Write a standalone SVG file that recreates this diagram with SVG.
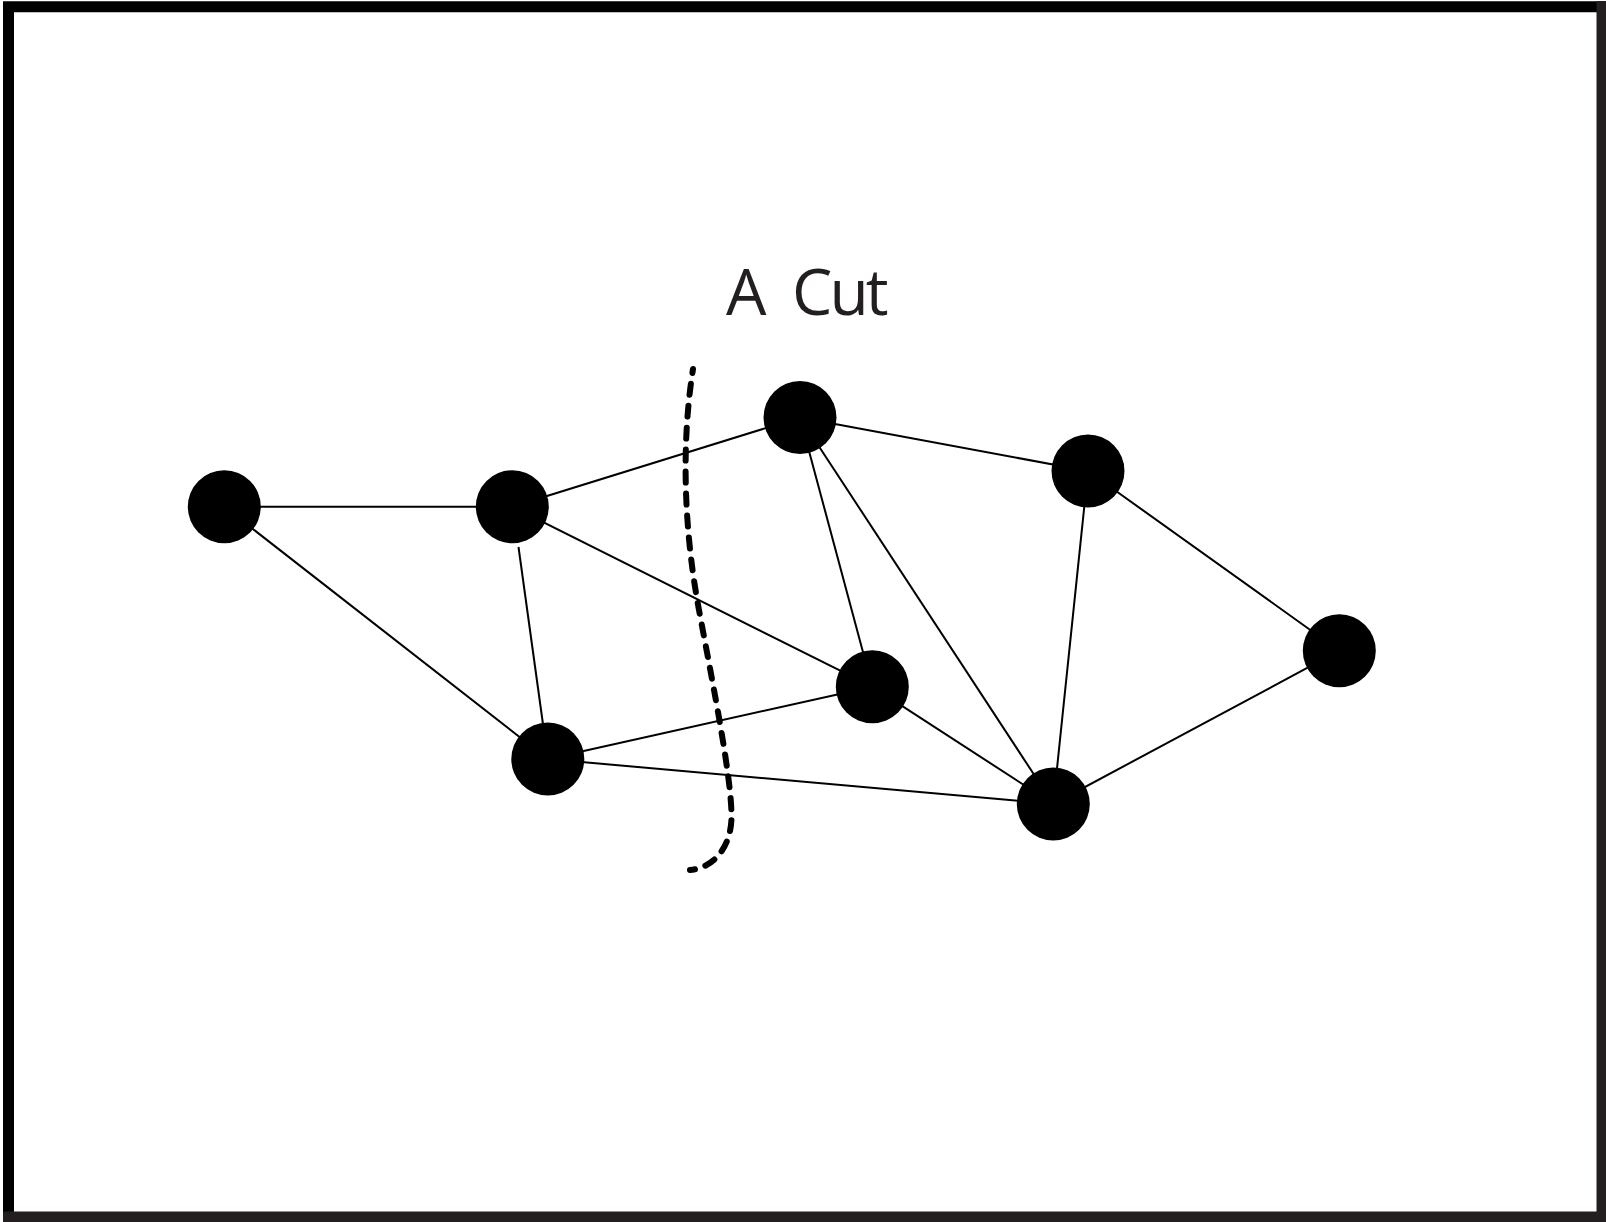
<svg xmlns="http://www.w3.org/2000/svg" width="1606" height="1222" viewBox="0 0 1606 1222">
  <style>
    .edge { stroke: #000; stroke-width: 2; fill: none; }
    .node { fill: #000; }
    .cut { stroke: #000; stroke-width: 6; fill: none; stroke-dasharray: 11 11; stroke-dashoffset: 7; stroke-linecap: round; }
    .label { font-family: "Open Sans", "DejaVu Sans", sans-serif; font-size: 64px; fill: #231f20; }
  </style>
  <rect x="0" y="0" width="1606" height="1222" fill="#fff"/>
  <g id="frame" fill="none" stroke-width="11">
    <polyline points="8.5,1222 8.5,6.8 1602.5,6.8" stroke="#000"/>
    <polyline points="3,1217 1602,1217 1602,1" stroke="#231f20"/>
  </g>
  <g id="connectors">
    <line class="edge" x1="224.3" y1="506.7" x2="512.3" y2="506.7"/>
    <line class="edge" x1="224.3" y1="506.7" x2="547.8" y2="759"/>
    <line class="edge" x1="512.3" y1="506.7" x2="800" y2="417.5"/>
    <line class="edge" x1="512.3" y1="506.7" x2="872.3" y2="686.7"/>
    <line class="edge" x1="518.5" y1="547" x2="547.8" y2="759"/>
    <line class="edge" x1="800" y1="417.5" x2="1088" y2="471"/>
    <line class="edge" x1="800" y1="417.5" x2="872.3" y2="686.7"/>
    <line class="edge" x1="800" y1="417.5" x2="1053.3" y2="804"/>
    <line class="edge" x1="1088" y1="471" x2="1053.3" y2="804"/>
    <line class="edge" x1="1088" y1="471" x2="1339.3" y2="650.7"/>
    <line class="edge" x1="1339.3" y1="650.7" x2="1053.3" y2="804"/>
    <line class="edge" x1="872.3" y1="686.7" x2="547.8" y2="759"/>
    <line class="edge" x1="872.3" y1="686.7" x2="1053.3" y2="804"/>
    <line class="edge" x1="547.8" y1="759" x2="1053.3" y2="804"/>
  </g>
  <g id="cut">
    <path class="cut" d="M693,369 C681,445 684,530 699,610 S731,775 731.5,815 C732,845 715,868 690,870"/>
    <text class="label" x="726" y="315">A <tspan dx="9" letter-spacing="-3">Cut</tspan></text>
  </g>
  <g id="n1"><circle class="node" cx="224.3" cy="506.7" r="36.5"/></g>
  <g id="n2"><circle class="node" cx="512.3" cy="506.7" r="36.5"/></g>
  <g id="n3"><circle class="node" cx="800" cy="417.5" r="36.5"/></g>
  <g id="n4"><circle class="node" cx="1088" cy="471" r="36.5"/></g>
  <g id="n5"><circle class="node" cx="1339.3" cy="650.7" r="36.5"/></g>
  <g id="n6"><circle class="node" cx="872.3" cy="686.7" r="36.5"/></g>
  <g id="n7"><circle class="node" cx="547.8" cy="759" r="36.5"/></g>
  <g id="n8"><circle class="node" cx="1053.3" cy="804" r="36.5"/></g>
</svg>
